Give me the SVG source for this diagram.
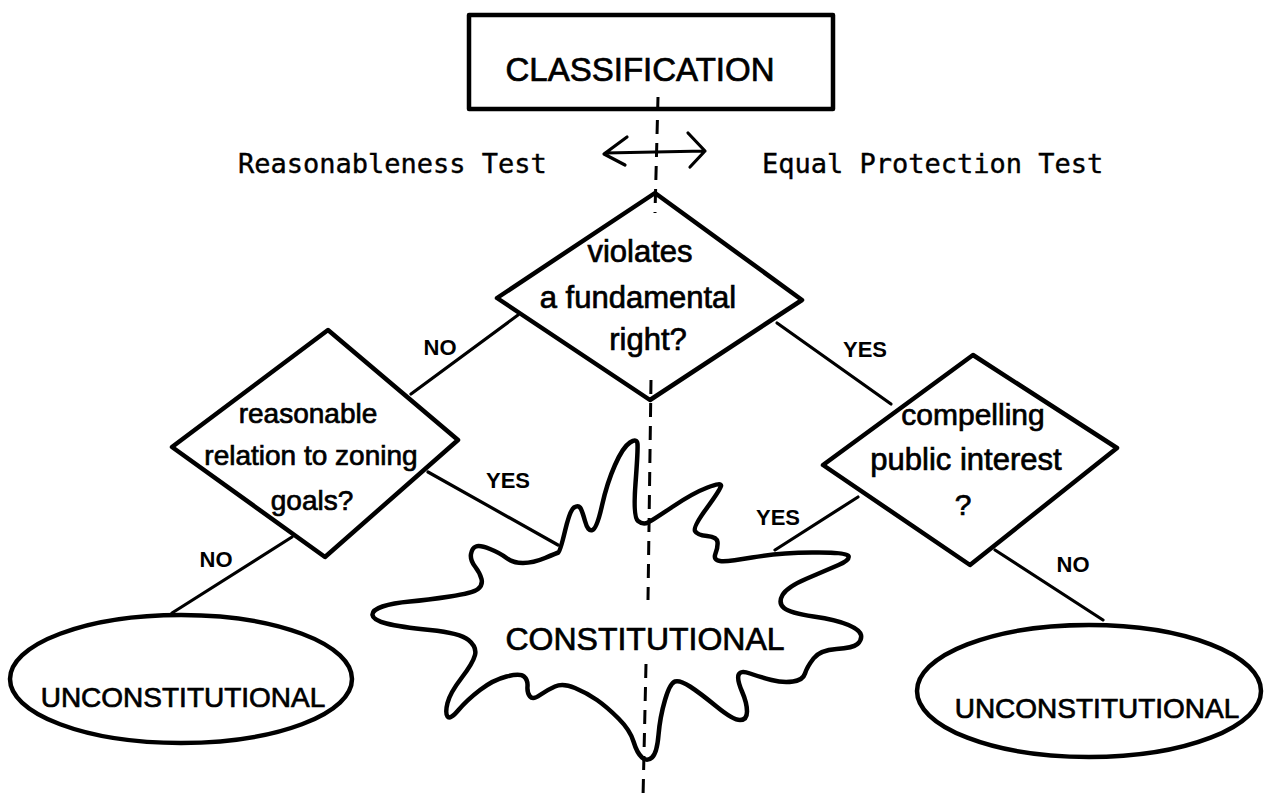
<svg xmlns="http://www.w3.org/2000/svg" width="1264" height="798" viewBox="0 0 1264 798">
<style>
.shape{fill:none;stroke:#000;stroke-width:4.5;stroke-linejoin:round;stroke-linecap:round}
.conn{fill:none;stroke:#000;stroke-width:3.2;stroke-linecap:round;stroke-linejoin:round}
.dash{fill:none;stroke:#000;stroke-width:3;stroke-dasharray:14 9}
.hand{font-family:"Liberation Sans",Arial,sans-serif;fill:#000;stroke:#000;stroke-width:0.7;text-anchor:middle}
.mono{font-family:"DejaVu Sans Mono","Liberation Mono",monospace;fill:#000;stroke:#000;stroke-width:0.4;font-size:27px}
.lbl{font-family:"Liberation Sans",Arial,sans-serif;fill:#000;text-anchor:middle;font-size:22px;font-weight:bold}
</style>
<rect x="0" y="0" width="1264" height="798" fill="#fff"/>

<g id="connectors">
  <line class="dash" x1="658" y1="97" x2="655" y2="213"/>
  <line class="dash" x1="651" y1="380" x2="648" y2="600"/>
  <line class="dash" x1="646" y1="664" x2="643" y2="798"/>
  <path class="conn" d="M605,153 L705,151 M627,137 L604,154 L625,165 M688,133 L705,151 L690,167"/>
  <line class="conn" x1="518" y1="315" x2="411" y2="394"/>
  <line class="conn" x1="777" y1="323" x2="891" y2="404"/>
  <line class="conn" x1="428" y1="472" x2="558" y2="545"/>
  <line class="conn" x1="292" y1="537" x2="172" y2="613"/>
  <line class="conn" x1="858" y1="497" x2="775" y2="550"/>
  <line class="conn" x1="995" y1="550" x2="1103" y2="620"/>
  <text class="lbl" x="440" y="355">NO</text>
  <text class="lbl" x="865" y="357" font-size="23">YES</text>
  <text class="lbl" x="508" y="488" font-size="23">YES</text>
  <text class="lbl" x="216" y="567">NO</text>
  <text class="lbl" x="778" y="525" font-size="23">YES</text>
  <text class="lbl" x="1073" y="572">NO</text>
</g>

<g id="classification">
  <rect class="shape" x="469" y="15" width="364" height="94"/>
  <text class="hand" x="640" y="81" font-size="33">CLASSIFICATION</text>
</g>

<g id="test-labels">
  <text class="mono" x="238" y="173">Reasonableness Test</text>
  <text class="mono" x="762" y="173">Equal Protection Test</text>
</g>

<g id="fundamental-right">
  <polygon class="shape" points="655,193 802,300 650,400 497,298"/>
  <text class="hand" x="640" y="262" font-size="31">violates</text>
  <text class="hand" x="638" y="308" font-size="31">a fundamental</text>
  <text class="hand" x="648" y="350" font-size="31">right?</text>
</g>

<g id="reasonable-relation">
  <polygon class="shape" points="328,330 458,440 325,557 172,447"/>
  <text class="hand" x="308" y="423" font-size="28">reasonable</text>
  <text class="hand" x="311" y="465" font-size="28">relation to zoning</text>
  <text class="hand" x="312" y="510" font-size="28">goals?</text>
</g>

<g id="compelling-interest">
  <polygon class="shape" points="973,355 1117,448 970,565 823,465"/>
  <text class="hand" x="973" y="425" font-size="30">compelling</text>
  <text class="hand" x="966" y="470" font-size="31">public interest</text>
  <text class="hand" x="963" y="515" font-size="30">?</text>
</g>

<g id="constitutional">
  <path class="shape" d="M558.5,552.5 Q560,552 565,531 Q570,510 574,507.5 Q578,505 580,507.5 Q582,510 585,521 Q588,532 592.5,530 Q597,528 602,505.5 Q607,483 615,465 Q623,447 630,442.5 Q637,438 637.5,444 Q638,450 635.5,483.5 Q633,517 638,521 Q643,525 648,522.5 Q653,520 673,506.5 Q693,493 707.5,487.5 Q722,482 721,486 Q720,490 706.5,508.5 Q693,527 695,531 Q697,535 707,536 Q717,537 717.5,542 Q718,547 715.5,553.5 Q713,560 720,561 Q727,562 752,557.5 Q777,553 812,552.5 Q847,552 848.5,556 Q850,560 838.5,565 Q827,570 807,578.5 Q787,587 782.5,595 Q778,603 784,608 Q790,613 813.5,616.5 Q837,620 848.5,625 Q860,630 861,635 Q862,640 857.5,644 Q853,648 836.5,649 Q820,650 813.5,658.5 Q807,667 805,673.5 Q803,680 793,681.5 Q783,683 771.5,680 Q760,677 750,673.5 Q740,670 738.5,675 Q737,680 742,691.5 Q747,703 747,711.5 Q747,720 740,720 Q733,720 716.5,706.5 Q700,693 690,686.5 Q680,680 675,681.5 Q670,683 665,700 Q660,717 658.5,735 Q657,753 652,757.5 Q647,762 642,757.5 Q637,753 633.5,741.5 Q630,730 618.5,718.5 Q607,707 597,700 Q587,693 575,688 Q563,683 555,686.5 Q547,690 540,695 Q533,700 530,696.5 Q527,693 527.5,686.5 Q528,680 524,676.5 Q520,673 506.5,676.5 Q493,680 480,690 Q467,700 458.5,710 Q450,720 447.5,716.5 Q445,713 447.5,703 Q450,693 461.5,678 Q473,663 475,655 Q477,647 468.5,640 Q460,633 430,630 Q400,627 386.5,623.5 Q373,620 372.5,615 Q372,610 382.5,606.5 Q393,603 410,601.5 Q427,600 450,596.5 Q473,593 478,589 Q483,585 481.5,579 Q480,573 475,566.5 Q470,560 471,554 Q472,548 476,546.5 Q480,545 490,549 Q500,553 506.5,558 Q513,563 523,563 Q533,563 545,558 Q557,553 558.5,552.5 Z"/>
  <text class="hand" x="645" y="650" font-size="32">CONSTITUTIONAL</text>
</g>

<g id="unconstitutional-left">
  <ellipse class="shape" cx="181" cy="679" rx="171" ry="64"/>
  <text class="hand" x="183" y="707" font-size="28">UNCONSTITUTIONAL</text>
</g>

<g id="unconstitutional-right">
  <ellipse class="shape" cx="1089" cy="691" rx="172" ry="66"/>
  <text class="hand" x="1097" y="718" font-size="28">UNCONSTITUTIONAL</text>
</g>
</svg>
